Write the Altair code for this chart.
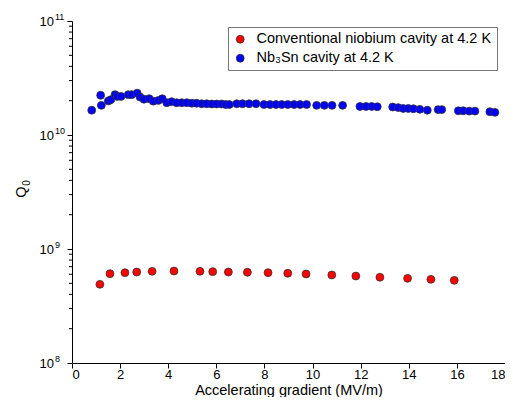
import altair as alt
import pandas as pd

# ---- data ----
nb_x = [1.16, 1.58, 2.2, 2.69, 3.33, 4.24, 5.32, 5.85, 6.5, 7.29, 8.15, 8.97,
        9.73, 10.8, 11.8, 12.8, 13.95, 14.92, 15.89]
nb_q = [4.9e8, 6.08e8, 6.2e8, 6.28e8, 6.37e8, 6.41e8, 6.37e8, 6.33e8, 6.28e8,
        6.25e8, 6.2e8, 6.12e8, 6.04e8, 5.92e8, 5.79e8, 5.65e8, 5.53e8, 5.42e8, 5.31e8]

sn_x = [0.82, 1.19, 1.22, 1.51, 1.61, 1.79, 1.88, 2.04, 2.34, 2.48, 2.71, 2.83,
        2.99, 3.21, 3.38, 3.59, 3.75, 3.94, 4.14, 4.35, 4.56, 4.77, 4.98, 5.18,
        5.39, 5.6, 5.81, 6.01, 6.22, 6.39, 6.54, 6.85, 7.09, 7.36, 7.65,
        7.98, 8.23, 8.48, 8.72, 8.97, 9.23, 9.48, 9.75,
        10.17, 10.49, 10.81, 11.25,
        11.97, 12.22, 12.46, 12.69,
        13.33, 13.56, 13.77, 13.98, 14.19, 14.46, 14.77,
        15.22, 15.37,
        16.06, 16.26, 16.51, 16.75,
        17.37, 17.58]
sn_q = [1.65e10, 2.23e10, 1.82e10, 1.99e10, 2.04e10, 2.26e10, 2.18e10, 2.18e10,
        2.26e10, 2.26e10, 2.33e10, 2.15e10, 2.06e10, 2.08e10, 1.98e10, 2.01e10,
        2.08e10, 1.92e10, 1.96e10, 1.92e10, 1.92e10, 1.92e10, 1.90e10, 1.90e10,
        1.88e10, 1.88e10, 1.87e10, 1.87e10, 1.87e10, 1.85e10, 1.85e10, 1.88e10,
        1.88e10, 1.88e10, 1.88e10,
        1.85e10, 1.85e10, 1.85e10, 1.85e10, 1.85e10, 1.85e10, 1.85e10, 1.85e10,
        1.82e10, 1.82e10, 1.82e10, 1.82e10,
        1.78e10, 1.78e10, 1.78e10, 1.77e10,
        1.76e10, 1.74e10, 1.71e10, 1.71e10, 1.70e10, 1.68e10, 1.65e10,
        1.67e10, 1.67e10,
        1.63e10, 1.63e10, 1.62e10, 1.62e10,
        1.60e10, 1.58e10]

series_names = ["Conventional niobium cavity at 4.2 K", "Nb\u2083Sn cavity at 4.2 K"]
series_colors = ["#ff0000", "#0000ff"]

x_ticks = [0, 2, 4, 6, 8, 10, 12, 14, 16, 18]
y_ticks = [1e8, 1e9, 1e10, 1e11]
y_tick_base = ["10", "10", "10", "10"]
y_tick_exp = ["8", "9", "10", "11"]
y_minor = [m * 10.0 ** e for e in (8, 9, 10) for m in range(2, 10)]

x_title = "Accelerating gradient (MV/m)"
y_title_main = ["Q"]
y_title_sub = ["0"]

# ---- build tables ----
df = pd.concat([
    pd.DataFrame({"E": nb_x, "Q": nb_q, "series": series_names[0]}),
    pd.DataFrame({"E": sn_x, "Q": sn_q, "series": series_names[1]}),
])
minor_df = pd.DataFrame({"Q": y_minor})
ylab_df = pd.DataFrame({"Q": y_ticks, "base": y_tick_base, "exp": y_tick_exp})

FONT = "Liberation Sans"

yscale = alt.Scale(type="log", domain=[1e8, 1e11], nice=False)

points = alt.Chart(df).mark_circle(
    size=62, opacity=1, stroke="#333333", strokeWidth=0.8
).encode(
    x=alt.X("E:Q", scale=alt.Scale(domain=[0, 18], nice=False),
            axis=alt.Axis(values=x_ticks, title=x_title, grid=False,
                          tickSize=5, labelPadding=0,
                          titleY=31, titleBaseline="alphabetic",
                          format="d")),
    y=alt.Y("Q:Q", scale=yscale,
            axis=alt.Axis(values=y_ticks, labels=False, title=None,
                          grid=False, tickSize=5)),
    color=alt.Color("series:N",
                    scale=alt.Scale(domain=series_names, range=series_colors),
                    legend=alt.Legend(title=None, orient="none",
                                      legendX=156, legendY=6)),
)

minor_ticks = alt.Chart(minor_df).mark_rule(color="#000000", strokeWidth=1).encode(
    y=alt.Y("Q:Q", scale=yscale),
    x=alt.value(-3),
    x2=alt.value(0),
)

ylab_base = alt.Chart(ylab_df).mark_text(
    align="right", baseline="middle", font=FONT, fontSize=13, color="#000000",
    dy=1,
).encode(
    y=alt.Y("Q:Q", scale=yscale),
    x=alt.value(-18),
    text="base:N",
)

ylab_exp = alt.Chart(ylab_df).mark_text(
    align="left", baseline="middle", font=FONT, fontSize=9, color="#000000",
    dy=-4,
).encode(
    y=alt.Y("Q:Q", scale=yscale),
    x=alt.value(-17),
    text="exp:N",
)

ytitle_q = alt.Chart(pd.DataFrame({"t": y_title_main})).mark_text(
    align="center", baseline="middle", font=FONT, fontSize=14.5,
    color="#000000", angle=270,
).encode(x=alt.value(-50), y=alt.value(171), text="t:N")

ytitle_sub = alt.Chart(pd.DataFrame({"t": y_title_sub})).mark_text(
    align="center", baseline="middle", font=FONT, fontSize=10,
    color="#000000", angle=270,
).encode(x=alt.value(-45), y=alt.value(162), text="t:N")

chart = alt.layer(points, minor_ticks, ylab_base, ylab_exp,
                  ytitle_q, ytitle_sub).properties(
    width=433, height=342,
    autosize=alt.AutoSizeParams(type="none"),
    padding={"left": 64, "top": 13, "right": 0, "bottom": 34},
).configure_view(
    stroke=None
).configure_axis(
    labelFont=FONT, titleFont=FONT, labelFontSize=13, titleFontSize=14.5,
    labelColor="#000000", titleColor="#000000", titleFontWeight="normal",
    domainColor="#000000", tickColor="#000000",
).configure_legend(
    labelFont=FONT, labelFontSize=14.5, labelColor="#000000", labelLimit=400,
    strokeColor="#777777", fillColor="#ffffff", padding=5,
    symbolType="circle", symbolSize=62, symbolStrokeColor="#333333",
    symbolStrokeWidth=0.8, symbolOpacity=1, rowPadding=4, labelOffset=9,
)

chart.save("out.html", embed_options={"renderer": "svg", "actions": False})
